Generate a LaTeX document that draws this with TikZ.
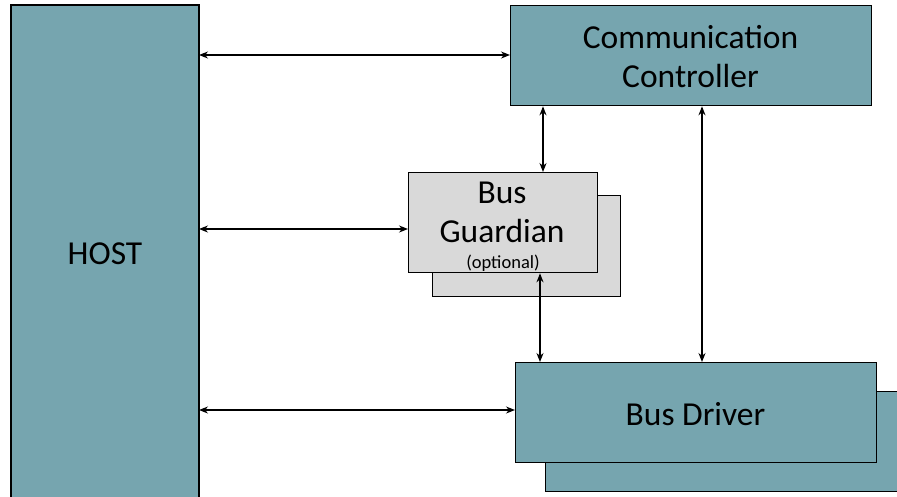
\documentclass[tikz,border=0pt]{standalone}
\usepackage{fontspec}
\setmainfont{Carlito}
\usetikzlibrary{arrows.meta}
\definecolor{teal1}{RGB}{118,165,175}
\definecolor{gray1}{RGB}{217,217,217}
\begin{document}
\begin{tikzpicture}[x=1pt,y=-1pt,
  bigfont/.style={font=\fontsize{33.5}{39}\selectfont},
  blk/.style={draw=black,line width=1.3pt,inner sep=0pt,align=center,bigfont},
  tealbox/.style={blk,fill=teal1},
  graybox/.style={blk,fill=gray1},
  link/.style={line width=1.3pt,{Stealth[length=9pt,width=7pt]}-{Stealth[length=9pt,width=7pt]}}]
\useasboundingbox (0,0) rectangle (897,496);
\path[tealbox] (11,5) rectangle (199,510);
\node (host) at (105,254) [bigfont] {HOST};
\coordinate (hostR) at (199,0);
\node[tealbox,minimum width=361pt,minimum height=100pt,anchor=north west] (cc) at (510,5) {};
\node[bigfont,align=center] (cctext) at (690.5,57) {Communication\\Controller};
\node[graybox,minimum width=188pt,minimum height=101pt,anchor=north west] (bgb) at (432,195) {};
\node[graybox,minimum width=189pt,minimum height=100pt,anchor=north west] (bg) at (408,172) {};
\node[bigfont,align=center] (bgtext) at (502,212) {Bus\\Guardian};
\node[font=\fontsize{18.5}{22}\selectfont] (bgopt) at (503,263) {(optional)};
\node[tealbox,minimum width=360pt,minimum height=100pt,anchor=north west] (bdb) at (545,391) {};
\node[tealbox,minimum width=361pt,minimum height=100pt,anchor=north west] (bd) at (515,362) {};
\node[bigfont] (bdtext) at (695.5,414) {Bus Driver};
\draw[link] (hostR |- 0,55) -- (cc.west |- 0,55);
\draw[link] (hostR |- 0,229) -- (bg.west |- 0,229);
\draw[link] (hostR |- 0,410) -- (bd.west |- 0,410);
\draw[link] (cc.south -| 543,0) -- (bg.north -| 543,0);
\draw[link] (cc.south -| 702,0) -- (bd.north -| 702,0);
\draw[link] (bg.south -| 540,0) -- (bd.north -| 540,0);
\end{tikzpicture}
\end{document}
